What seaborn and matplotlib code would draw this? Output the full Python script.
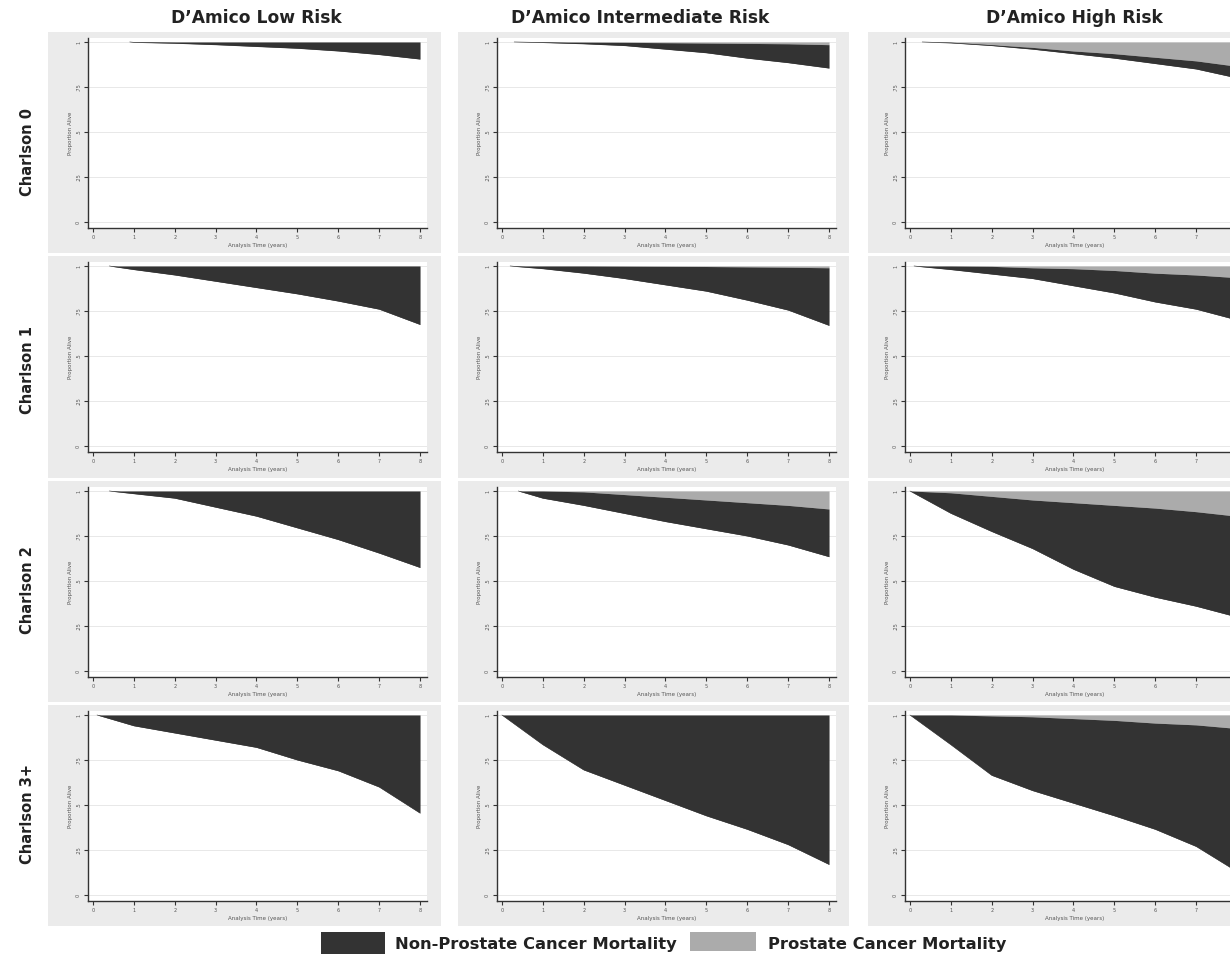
import numpy as np
import pandas as pd
import seaborn as sns
import matplotlib.pyplot as plt
from matplotlib.patches import Rectangle

# layout of the grid
risk_groups = ["D\u2019Amico Low Risk", "D\u2019Amico Intermediate Risk", "D\u2019Amico High Risk"]
charlson = ["Charlson 0", "Charlson 1", "Charlson 2", "Charlson 3+"]
years = [1, 2, 3, 4, 5, 6, 7, 8]

# first follow-up time of each curve (rows = Charlson 0..3+)
start_low = [0.9, 0.4, 0.4, 0.1]
start_int = [0.3, 0.2, 0.4, 0.0]
start_high = [0.3, 0.1, 0.0, 0.0]

# overall survival (lower edge of the dark area) at years 1..8
surv_low = [
    [0.998, 0.993, 0.985, 0.975, 0.965, 0.95, 0.93, 0.905],
    [0.98, 0.95, 0.915, 0.88, 0.845, 0.805, 0.76, 0.675],
    [0.985, 0.96, 0.91, 0.86, 0.795, 0.73, 0.655, 0.575],
    [0.94, 0.90, 0.86, 0.82, 0.75, 0.69, 0.60, 0.455],
]
surv_int = [
    [0.997, 0.99, 0.98, 0.96, 0.94, 0.91, 0.885, 0.855],
    [0.985, 0.96, 0.93, 0.895, 0.86, 0.81, 0.755, 0.67],
    [0.96, 0.92, 0.875, 0.83, 0.79, 0.75, 0.70, 0.635],
    [0.835, 0.695, 0.61, 0.525, 0.44, 0.365, 0.28, 0.17],
]
surv_high = [
    [0.995, 0.98, 0.96, 0.935, 0.91, 0.88, 0.85, 0.80],
    [0.98, 0.955, 0.93, 0.89, 0.85, 0.80, 0.76, 0.70],
    [0.876, 0.775, 0.68, 0.565, 0.47, 0.41, 0.36, 0.30],
    [0.835, 0.665, 0.58, 0.51, 0.44, 0.365, 0.27, 0.13],
]

# 1 - prostate cancer mortality (upper edge of the dark area) at years 1..8
free_low = [
    [1.0] * 8,
    [1.0] * 8,
    [1.0] * 8,
    [1.0] * 8,
]
free_int = [
    [1.0, 0.999, 0.998, 0.996, 0.994, 0.992, 0.99, 0.985],
    [1.0, 1.0, 0.999, 0.998, 0.997, 0.995, 0.993, 0.99],
    [1.0, 0.995, 0.98, 0.965, 0.95, 0.935, 0.92, 0.90],
    [1.0] * 8,
]
free_high = [
    [0.998, 0.985, 0.97, 0.95, 0.935, 0.915, 0.895, 0.865],
    [1.0, 0.998, 0.99, 0.985, 0.975, 0.96, 0.95, 0.935],
    [0.99, 0.97, 0.95, 0.935, 0.92, 0.905, 0.885, 0.86],
    [1.0, 0.995, 0.99, 0.98, 0.97, 0.955, 0.945, 0.925],
]

y_ticks = [0, 0.25, 0.5, 0.75, 1]
y_tick_labels = ["0", ".25", ".5", ".75", "1"]

dark = "#333333"
light = "#ababab"
frame_col = "#ebebeb"

starts = [start_low, start_int, start_high]
survs = [surv_low, surv_int, surv_high]
frees = [free_low, free_int, free_high]

# build one long table
rows = []
for c, risk in enumerate(risk_groups):
    for r, ch in enumerate(charlson):
        t = [starts[c][r]] + years
        s = [1.0] + survs[c][r]
        f = [1.0] + frees[c][r]
        for ti, si, fi in zip(t, s, f):
            rows.append({"risk": risk, "charlson": ch, "time": ti, "surv": si, "free": fi})
df = pd.DataFrame(rows)

sns.set_style("ticks")
plt.rcParams["font.family"] = ["DejaVu Sans"]

W, H = 1230, 960
fig = plt.figure(figsize=(W / 100, H / 100), dpi=100)


def px_rect(left, top, right, bottom):
    return [left / W, 1 - bottom / H, (right - left) / W, (bottom - top) / H]


# grey frames behind each panel (Stata style)
frame_l = [48, 458, 868]
frame_r = [441, 849, 1260]
frame_t = [32, 256, 481, 705]
frame_b = [253, 478, 702, 926]
for c in range(3):
    for r in range(4):
        x0, y0, w, h = px_rect(frame_l[c], frame_t[r], frame_r[c], frame_b[r])
        fig.patches.append(Rectangle((x0, y0), w, h, transform=fig.transFigure,
                                     facecolor=frame_col, edgecolor="none", zorder=-10))

ax_left = [88, 497, 905]
ax_w = 339
ax_top = [38, 262, 487, 711]
ax_h = 190

for c, risk in enumerate(risk_groups):
    for r, ch in enumerate(charlson):
        ax = fig.add_axes(px_rect(ax_left[c], ax_top[r], ax_left[c] + ax_w, ax_top[r] + ax_h))
        ax.set_zorder(5)
        ax.set_facecolor("white")
        sub = df[(df["risk"] == risk) & (df["charlson"] == ch)]
        ax.fill_between(sub["time"], sub["free"], 1.0, color=light, lw=0, zorder=2)
        ax.fill_between(sub["time"], sub["surv"], sub["free"], color=dark, lw=0, zorder=3)
        sns.lineplot(data=sub, x="time", y="surv", ax=ax, color=dark, lw=0.4, zorder=3)

        ax.set_xlim(-0.12, 8.17)
        ax.set_ylim(-0.033, 1.022)
        ax.set_yticks(y_ticks)
        ax.set_yticklabels(y_tick_labels, rotation=90, va="center", fontsize=3.5, color="#555555")
        ax.set_xticks(range(0, 9))
        ax.set_xticklabels([str(i) for i in range(9)], fontsize=3.5, color="#555555")
        ax.tick_params(length=3, width=0.8, pad=2, color="#333333")
        for yv in y_ticks:
            ax.axhline(yv, color="#e8e8e8", lw=0.7, zorder=1)
        ax.set_xlabel("Analysis Time (years)", fontsize=4, color="#555555", labelpad=2)
        ax.set_ylabel("Proportion Alive", fontsize=4, color="#555555", labelpad=2)
        for side in ["top", "right"]:
            ax.spines[side].set_visible(False)
        for side in ["left", "bottom"]:
            ax.spines[side].set_color("#333333")
            ax.spines[side].set_linewidth(1.0)

# column titles
col_centers = [256, 640, 1074]
for c, risk in enumerate(risk_groups):
    fig.text(col_centers[c] / W, 1 - 18 / H, risk, ha="center", va="center",
             fontsize=12.3, fontweight="bold", color="#222222")

# row labels
row_centers = [152, 370, 590, 814]
for r, ch in enumerate(charlson):
    fig.text(28 / W, 1 - row_centers[r] / H, ch, ha="center", va="center", rotation=90,
             fontsize=10.5, fontweight="bold", color="#222222")

# legend
fig.patches.append(Rectangle((321 / W, 1 - 954 / H), 64 / W, 22 / H, transform=fig.transFigure,
                             facecolor=dark, edgecolor="none"))
fig.text(395 / W, 1 - 945 / H, "Non-Prostate Cancer Mortality", ha="left", va="center",
         fontsize=11.8, fontweight="bold", color="#222222")
fig.patches.append(Rectangle((690 / W, 1 - 951 / H), 66 / W, 19 / H, transform=fig.transFigure,
                             facecolor=light, edgecolor="none"))
fig.text(768 / W, 1 - 945 / H, "Prostate Cancer Mortality", ha="left", va="center",
         fontsize=11.8, fontweight="bold", color="#222222")

fig.savefig("out.png", dpi=100)
